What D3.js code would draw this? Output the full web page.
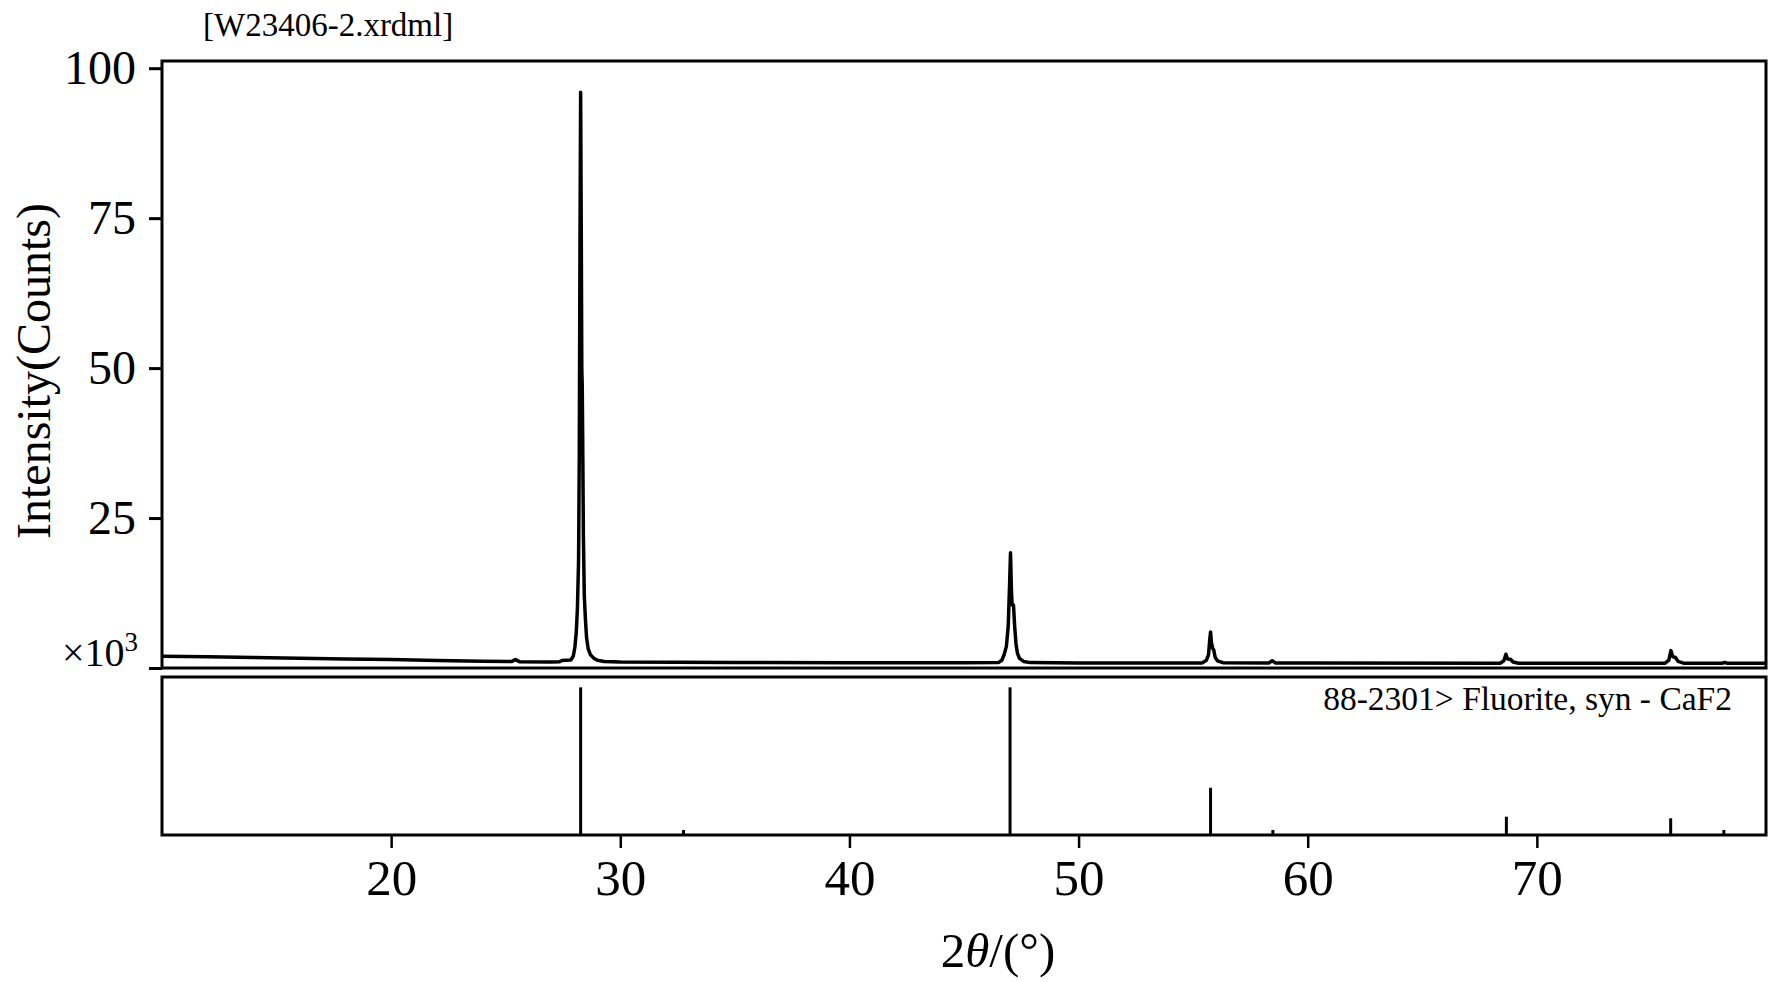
<!DOCTYPE html>
<html lang="en">
<head>
  <meta charset="utf-8" />
  <title>W23406-2 XRD pattern</title>
  <script src="https://d3js.org/d3.v7.min.js"></script>
  <style>
    html, body { margin: 0; padding: 0; background: #fff; }
    svg { display: block; }
    text { font-family: "Liberation Serif", "Times New Roman", serif; fill: #000; }
  </style>
</head>
<body>
<svg width="1770" height="982"></svg>
<script>

var scan = [
  [10.0, 1.95], [12.0, 1.86], [14.0, 1.76], [16.0, 1.64], [18.0, 1.52],
  [20.0, 1.40], [22.0, 1.26], [24.0, 1.13], [25.25, 1.07], [25.42, 1.40],
  [25.6, 1.06], [27.0, 1.00], [27.35, 1.05], [27.45, 1.25], [27.85, 1.35],
  [27.95, 2.0], [28.02, 3.5], [28.08, 6], [28.13, 10], [28.18, 18],
  [28.21, 35], [28.24, 70], [28.27, 96], [28.30, 70], [28.32, 50],
  [28.34, 47], [28.36, 38], [28.39, 22], [28.43, 12], [28.48, 8],
  [28.53, 5], [28.60, 3.2], [28.70, 2.2], [28.85, 1.6], [29.0, 1.3],
  [29.3, 1.1], [30.0, 1.0], [35.0, 0.92], [40.0, 0.88], [45.0, 0.86],
  [46.5, 0.9], [46.65, 1.3], [46.75, 2.2], [46.85, 3.6], [46.93, 7],
  [46.99, 14], [47.03, 19.2], [47.07, 13], [47.10, 10.5], [47.16, 10.5],
  [47.21, 7], [47.27, 4], [47.33, 2.5], [47.42, 1.6], [47.6, 1.1],
  [47.9, 0.9], [50.0, 0.84], [55.4, 0.85], [55.58, 1.3], [55.67, 2.2],
  [55.72, 4.5], [55.76, 6.0], [55.80, 4.2], [55.85, 3.3], [55.90, 3.0],
  [55.96, 1.8], [56.06, 1.2], [56.3, 0.88], [58.3, 0.84], [58.45, 1.2],
  [58.6, 0.84], [60.0, 0.82], [68.4, 0.8], [68.56, 1.2], [68.65, 2.3],
  [68.72, 1.5], [68.85, 1.45], [68.96, 1.0], [69.2, 0.8], [75.6, 0.8],
  [75.76, 1.3], [75.85, 2.9], [75.93, 1.9], [76.05, 1.75], [76.16, 1.1],
  [76.4, 0.8], [78.1, 0.8], [78.2, 0.92], [78.3, 0.8], [80.0, 0.78]
];

// reference card 88-2301 Fluorite, syn - CaF2
var cardPos = [28.27, 32.76, 47.01, 55.76, 58.48, 68.67, 75.84, 78.16];
var cardInt = [100, 3.4, 100, 32, 3.4, 12.4, 11.3, 3.4];

var xTicks = [20, 30, 40, 50, 60, 70];
var yTicks = [0, 25, 50, 75, 100];
var yTickLabels = ["", "25", "50", "75", "100"];

var fileName = "[W23406-2.xrdml]";
var cardName = "88-2301> Fluorite, syn - CaF2";
var yTitle = "Intensity(Counts)";

var svg = d3.select("svg");

// panel boxes
var left = 162, right = 1766;
var top1 = 61, bot1 = 668;
var top2 = 677, bot2 = 835;

var x = d3.scaleLinear().domain([10, 80]).range([left, right]);
var y = d3.scaleLinear().domain([0, 101.2]).range([bot1, top1]);
var yCard = d3.scaleLinear().domain([0, 107]).range([bot2, top2]);

svg.append("clipPath").attr("id", "clip1")
  .append("rect")
  .attr("x", left).attr("y", top1)
  .attr("width", right - left).attr("height", bot1 - top1);

// scan line
var line = d3.line()
  .x(function(d) { return x(d[0]); })
  .y(function(d) { return y(d[1]); });

svg.append("path")
  .datum(scan)
  .attr("clip-path", "url(#clip1)")
  .attr("fill", "none")
  .attr("stroke", "#000")
  .attr("stroke-width", 3.5)
  .attr("stroke-linejoin", "round")
  .attr("d", line);

// sticks
svg.append("g")
  .selectAll("line")
  .data(cardPos)
  .enter()
  .append("line")
  .attr("x1", function(d) { return x(d); })
  .attr("x2", function(d) { return x(d); })
  .attr("y1", yCard(0))
  .attr("y2", function(d, i) { return yCard(cardInt[i]); })
  .attr("stroke", "#000")
  .attr("stroke-width", 3);

// frames
[[top1, bot1], [top2, bot2]].forEach(function(p) {
  svg.append("rect")
    .attr("x", left).attr("y", p[0])
    .attr("width", right - left).attr("height", p[1] - p[0])
    .attr("fill", "none")
    .attr("stroke", "#000")
    .attr("stroke-width", 3);
});

// y axis
var yAxis = svg.append("g")
  .attr("transform", "translate(" + left + ",0)")
  .call(d3.axisLeft(y)
    .tickValues(yTicks)
    .tickSize(13)
    .tickPadding(13)
    .tickFormat(function(d, i) { return yTickLabels[i]; }));
yAxis.select(".domain").remove();
yAxis.selectAll("line").attr("stroke-width", 3);
yAxis.selectAll("text")
  .attr("font-family", "Liberation Serif")
  .attr("font-size", 48);

// x axis
var xAxis = svg.append("g")
  .attr("transform", "translate(0," + bot2 + ")")
  .call(d3.axisBottom(x)
    .tickValues(xTicks)
    .tickSize(13)
    .tickPadding(11)
    .tickFormat(d3.format("d")));
xAxis.select(".domain").remove();
xAxis.selectAll("line").attr("stroke-width", 2.5);
xAxis.selectAll("text")
  .attr("font-family", "Liberation Serif")
  .attr("font-size", 51);

// multiplier
var mult = svg.append("text")
  .attr("x", 138)
  .attr("y", 666)
  .attr("text-anchor", "end")
  .attr("font-size", 40);
mult.append("tspan").text("\u00d710");
mult.append("tspan").attr("font-size", 27).attr("dy", -15).text("3");

// titles
svg.append("text")
  .attr("x", 203)
  .attr("y", 36)
  .attr("font-size", 33)
  .text(fileName);

svg.append("text")
  .attr("x", 1732)
  .attr("y", 710)
  .attr("text-anchor", "end")
  .attr("font-size", 33.5)
  .text(cardName);

svg.append("text")
  .attr("transform", "translate(50,371) rotate(-90)")
  .attr("text-anchor", "middle")
  .attr("font-size", 48)
  .text(yTitle);

var xt = svg.append("text")
  .attr("x", 998)
  .attr("y", 967)
  .attr("text-anchor", "middle")
  .attr("font-size", 49);
xt.append("tspan").text("2");
xt.append("tspan").attr("font-style", "italic").text("\u03b8");
xt.append("tspan").text("/(\u00b0)");

</script>
</body>
</html>
